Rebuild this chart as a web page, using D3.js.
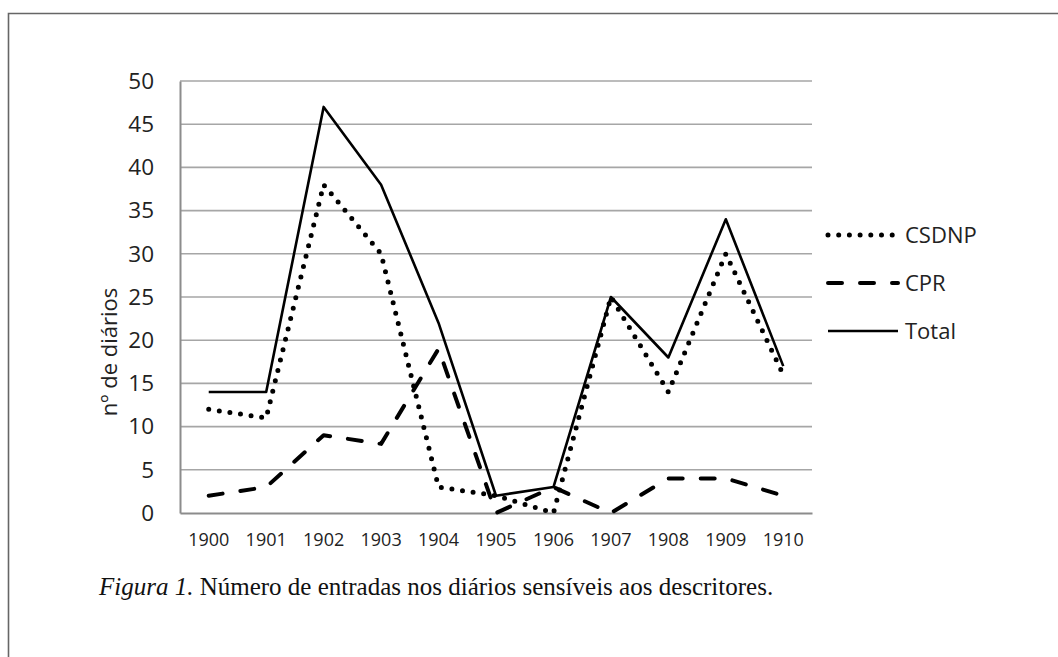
<!DOCTYPE html>
<html>
<head>
<meta charset="utf-8">
<script src="https://cdn.jsdelivr.net/npm/d3@7"></script>
<style>
  body { margin: 0; background: #fff; }
</style>
</head>
<body>
<div id="chart"></div>
<script>
// data
var years = ["1900", "1901", "1902", "1903", "1904", "1905", "1906", "1907", "1908", "1909", "1910"];
var csdnp = [12, 11, 38, 30, 3, 2, 0, 25, 14, 30, 16];
var cpr = [2, 3, 9, 8, 19, 0, 3, 0, 4, 4, 2];
var total = [14, 14, 47, 38, 22, 2, 3, 25, 18, 34, 17];
var yTicks = [0, 5, 10, 15, 20, 25, 30, 35, 40, 45, 50];

var series = [
  {name: "CSDNP", values: csdnp, cls: "dot"},
  {name: "CPR", values: cpr, cls: "dash"},
  {name: "Total", values: total, cls: "solid"}
];

var width = 1058, height = 657;
var margin = {top: 81, left: 180, right: 246, bottom: 144};

var svg = d3.select("#chart").append("svg")
    .attr("width", width)
    .attr("height", height);

svg.append("style").text(`
  .grid line { stroke: #a6a6a6; stroke-width: 1.6px; }
  .axis path, .axis line { stroke: #8c8c8c; }
  .tick text { font-family: "Open Sans", sans-serif; fill: #222; }
  .series { fill: none; stroke: #000; stroke-linejoin: round; }
  .solid { stroke-width: 2.6px; }
  .dash { stroke-width: 4px; stroke-dasharray: 14 18; stroke-linecap: round; }
  .dot { stroke-width: 5px; stroke-dasharray: 0 10.7; stroke-linecap: round; }
  .legend text { font-family: "Open Sans", sans-serif; font-size: 22px; fill: #222; }
`);

// outer frame
svg.append("path")
    .attr("d", "M8.5," + height + "V13.5H" + width)
    .attr("fill", "none")
    .attr("stroke", "#666")
    .attr("stroke-width", 1.6);

var x = d3.scaleBand()
    .domain(years)
    .range([margin.left, width - margin.right]);

var y = d3.scaleLinear()
    .domain([0, 50])
    .range([height - margin.bottom, margin.top]);

// gridlines
svg.append("g")
    .attr("class", "grid")
    .selectAll("line")
    .data(yTicks.slice(1))
    .enter().append("line")
    .attr("x1", margin.left)
    .attr("x2", width - margin.right)
    .attr("y1", function(d) { return y(d); })
    .attr("y2", function(d) { return y(d); });

// y axis
var yAxis = svg.append("g")
    .attr("class", "axis")
    .attr("transform", "translate(" + margin.left + ",0)")
    .call(d3.axisLeft(y).tickValues(yTicks).tickSize(0).tickPadding(26));
yAxis.select(".domain").attr("stroke-width", 2);
yAxis.selectAll("text").style("font-size", "22.5px");

// x axis
var xAxis = svg.append("g")
    .attr("class", "axis")
    .attr("transform", "translate(0," + y(0) + ")")
    .call(d3.axisBottom(x).tickSize(0).tickPadding(20));
xAxis.select(".domain").attr("stroke-width", 2);
xAxis.selectAll("text").style("font-size", "18px");

// y axis title
svg.append("text")
    .attr("transform", "translate(117,352) rotate(-90)")
    .attr("text-anchor", "middle")
    .style("font-family", "Open Sans, sans-serif")
    .style("font-size", "22px")
    .style("fill", "#222")
    .text("nº de diários");

var line = d3.line()
    .x(function(d, i) { return x(years[i]) + x.bandwidth() / 2; })
    .y(function(d) { return y(d); });

svg.selectAll(".series")
    .data(series)
    .enter().append("path")
    .attr("class", function(d) { return "series " + d.cls; })
    .attr("d", function(d) { return line(d.values); });

// legend
var legend = svg.append("g")
    .attr("class", "legend")
    .selectAll("g")
    .data(series)
    .enter().append("g")
    .attr("transform", function(d, i) { return "translate(828," + (235 + i * 48) + ")"; });

legend.append("line")
    .attr("class", function(d) { return "series " + d.cls; })
    .attr("x1", 0)
    .attr("x2", 70)
    .attr("y1", 0)
    .attr("y2", 0);

legend.append("text")
    .attr("x", 77)
    .attr("y", 8)
    .text(function(d) { return d.name; });

// caption
var caption = svg.append("text")
    .attr("x", 99)
    .attr("y", 595)
    .style("font-family", "Liberation Serif, serif")
    .style("font-size", "25px")
    .style("fill", "#111");
caption.append("tspan").style("font-style", "italic").text("Figura 1.");
caption.append("tspan").text(" Número de entradas nos diários sensíveis aos descritores.");
</script>
</body>
</html>
